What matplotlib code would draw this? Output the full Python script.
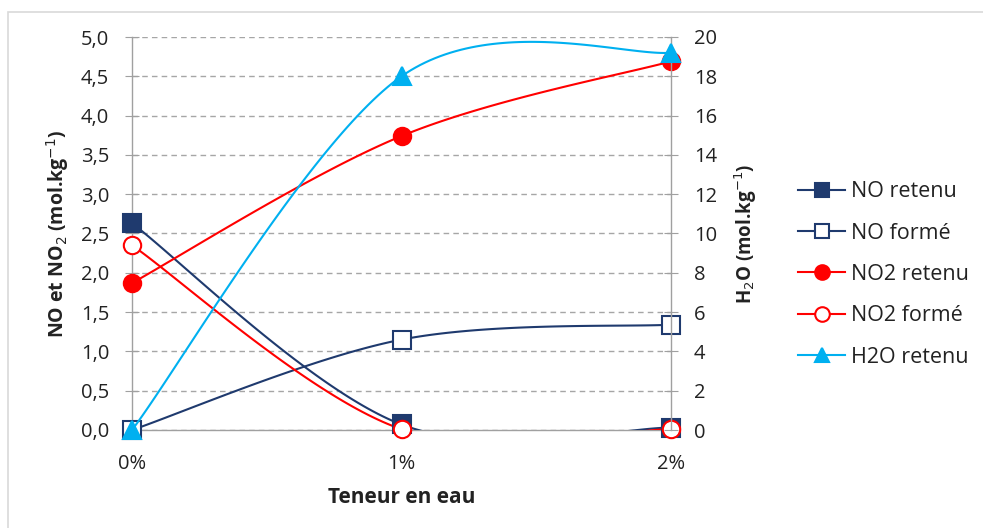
import numpy as np
import matplotlib
matplotlib.use("Agg")
import matplotlib.pyplot as plt
from matplotlib.patches import Rectangle
from matplotlib.ticker import FuncFormatter, MultipleLocator

categories = ["0%", "1%", "2%"]
no_retenu = [2.63, 0.07, 0.03]
no_forme = [0.0, 1.15, 1.34]
no2_retenu = [1.87, 3.74, 4.69]
no2_forme = [2.35, 0.01, 0.01]
h2o_retenu = [0.0, 18.0, 19.2]

NAVY = "#1F3A6E"
RED = "#FF0000"
CYAN = "#00B0F0"
GRID = "#A6A6A6"
AXIS = "#A0A0A0"
TEXT = "#222222"

plt.rcParams["font.family"] = ["Open Sans", "DejaVu Sans"]


def smooth(y, n=60):
    """Smoothed line: cubic Bezier segments with Catmull-Rom tangents."""
    x = np.arange(len(y), dtype=float)
    y = np.asarray(y, dtype=float)
    pts = np.column_stack([x, y])
    out = [pts[:1]]
    for i in range(len(pts) - 1):
        p0 = pts[max(i - 1, 0)]
        p1 = pts[i]
        p2 = pts[i + 1]
        p3 = pts[min(i + 2, len(pts) - 1)]
        c1 = p1 + (p2 - p0) / 6.0
        c2 = p2 - (p3 - p1) / 6.0
        t = np.linspace(0, 1, n)[1:, None]
        seg = ((1 - t) ** 3) * p1 + 3 * ((1 - t) ** 2) * t * c1 + 3 * (1 - t) * t ** 2 * c2 + t ** 3 * p2
        out.append(seg)
    s = np.vstack(out)
    return s[:, 0], s[:, 1]


fig = plt.figure(figsize=(9.83, 5.28), dpi=100)
fig.patches.append(Rectangle((8 / 983, -0.05), 1.1, 1 - 12 / 528 + 0.05, transform=fig.transFigure,
                             fill=False, edgecolor="#D9D9D9", linewidth=1.2, zorder=0))

ax = fig.add_axes([132 / 983, 1 - 430 / 528, (671 - 132) / 983, (430 - 37) / 528])
ax2 = ax.twinx()

ms = 12.5
series = [
    (ax, no_retenu, NAVY, "s", NAVY, "NO retenu"),
    (ax, no_forme, NAVY, "s", "white", "NO formé"),
    (ax, no2_retenu, RED, "o", RED, "NO2 retenu"),
    (ax, no2_forme, RED, "o", "white", "NO2 formé"),
    (ax2, h2o_retenu, CYAN, "^", CYAN, "H2O retenu"),
]
handles = []
xs = np.arange(len(categories))
for i, (a, vals, col, mk, face, label) in enumerate(series):
    sx, sy = smooth(vals)
    a.plot(sx, sy, color=col, linewidth=1.5, zorder=3 + i)
    a.plot(xs, vals, linestyle="none", marker=mk, markersize=ms, markerfacecolor=face,
           markeredgecolor=col, markeredgewidth=1.5, clip_on=False, zorder=10 + i)
    h, = a.plot([], [], color=col, linewidth=1.5, marker=mk, markersize=10.5,
                markerfacecolor=face, markeredgecolor=col, markeredgewidth=1.5, label=label)
    handles.append(h)

ax.set_xlim(0, 2)
ax.set_ylim(0, 5)
ax2.set_ylim(0, 20)
ax.set_xticks(xs)
ax.set_xticklabels(categories)
ax.yaxis.set_major_locator(MultipleLocator(0.5))
ax.yaxis.set_major_formatter(FuncFormatter(lambda v, p: f"{v:.1f}".replace(".", ",")))
ax2.yaxis.set_major_locator(MultipleLocator(2))

ax.grid(axis="y", color=GRID, linestyle=(0, (4, 3)), linewidth=1)
ax.set_axisbelow(True)

for a in (ax, ax2):
    a.spines["top"].set_visible(False)
    for s in ("left", "right", "bottom"):
        a.spines[s].set_color(AXIS)
        a.spines[s].set_linewidth(1)
ax.spines["right"].set_visible(False)
ax2.spines["left"].set_visible(False)
ax2.spines["bottom"].set_visible(False)

ax.tick_params(axis="y", direction="inout", length=10, color=AXIS, labelsize=14.5,
               labelcolor=TEXT, pad=11.5)
ax.tick_params(axis="x", length=0, labelsize=14.5, labelcolor=TEXT, pad=17.5)
ax2.tick_params(axis="y", direction="inout", length=10, color=AXIS, labelsize=14.5,
                labelcolor=TEXT, pad=11.5)

ax.set_ylabel("NO et NO$_2$ (mol.kg$^{-1}$)", fontsize=14, fontweight="bold", color=TEXT, labelpad=7)
ax2.set_ylabel("H$_2$O (mol.kg$^{-1}$)", fontsize=13.5, fontweight="bold", color=TEXT, labelpad=11)
ax.set_xlabel("Teneur en eau", fontsize=15, fontweight="bold", color=TEXT, labelpad=9)

fig.legend(handles=handles, loc="center left", bbox_to_anchor=(798 / 983, 1 - 274.5 / 528),
           frameon=False, fontsize=15.5, labelspacing=0.95, handlelength=2.2, handletextpad=0.25,
           borderpad=0, borderaxespad=0, labelcolor=TEXT)

fig.savefig("out.png", dpi=100)
